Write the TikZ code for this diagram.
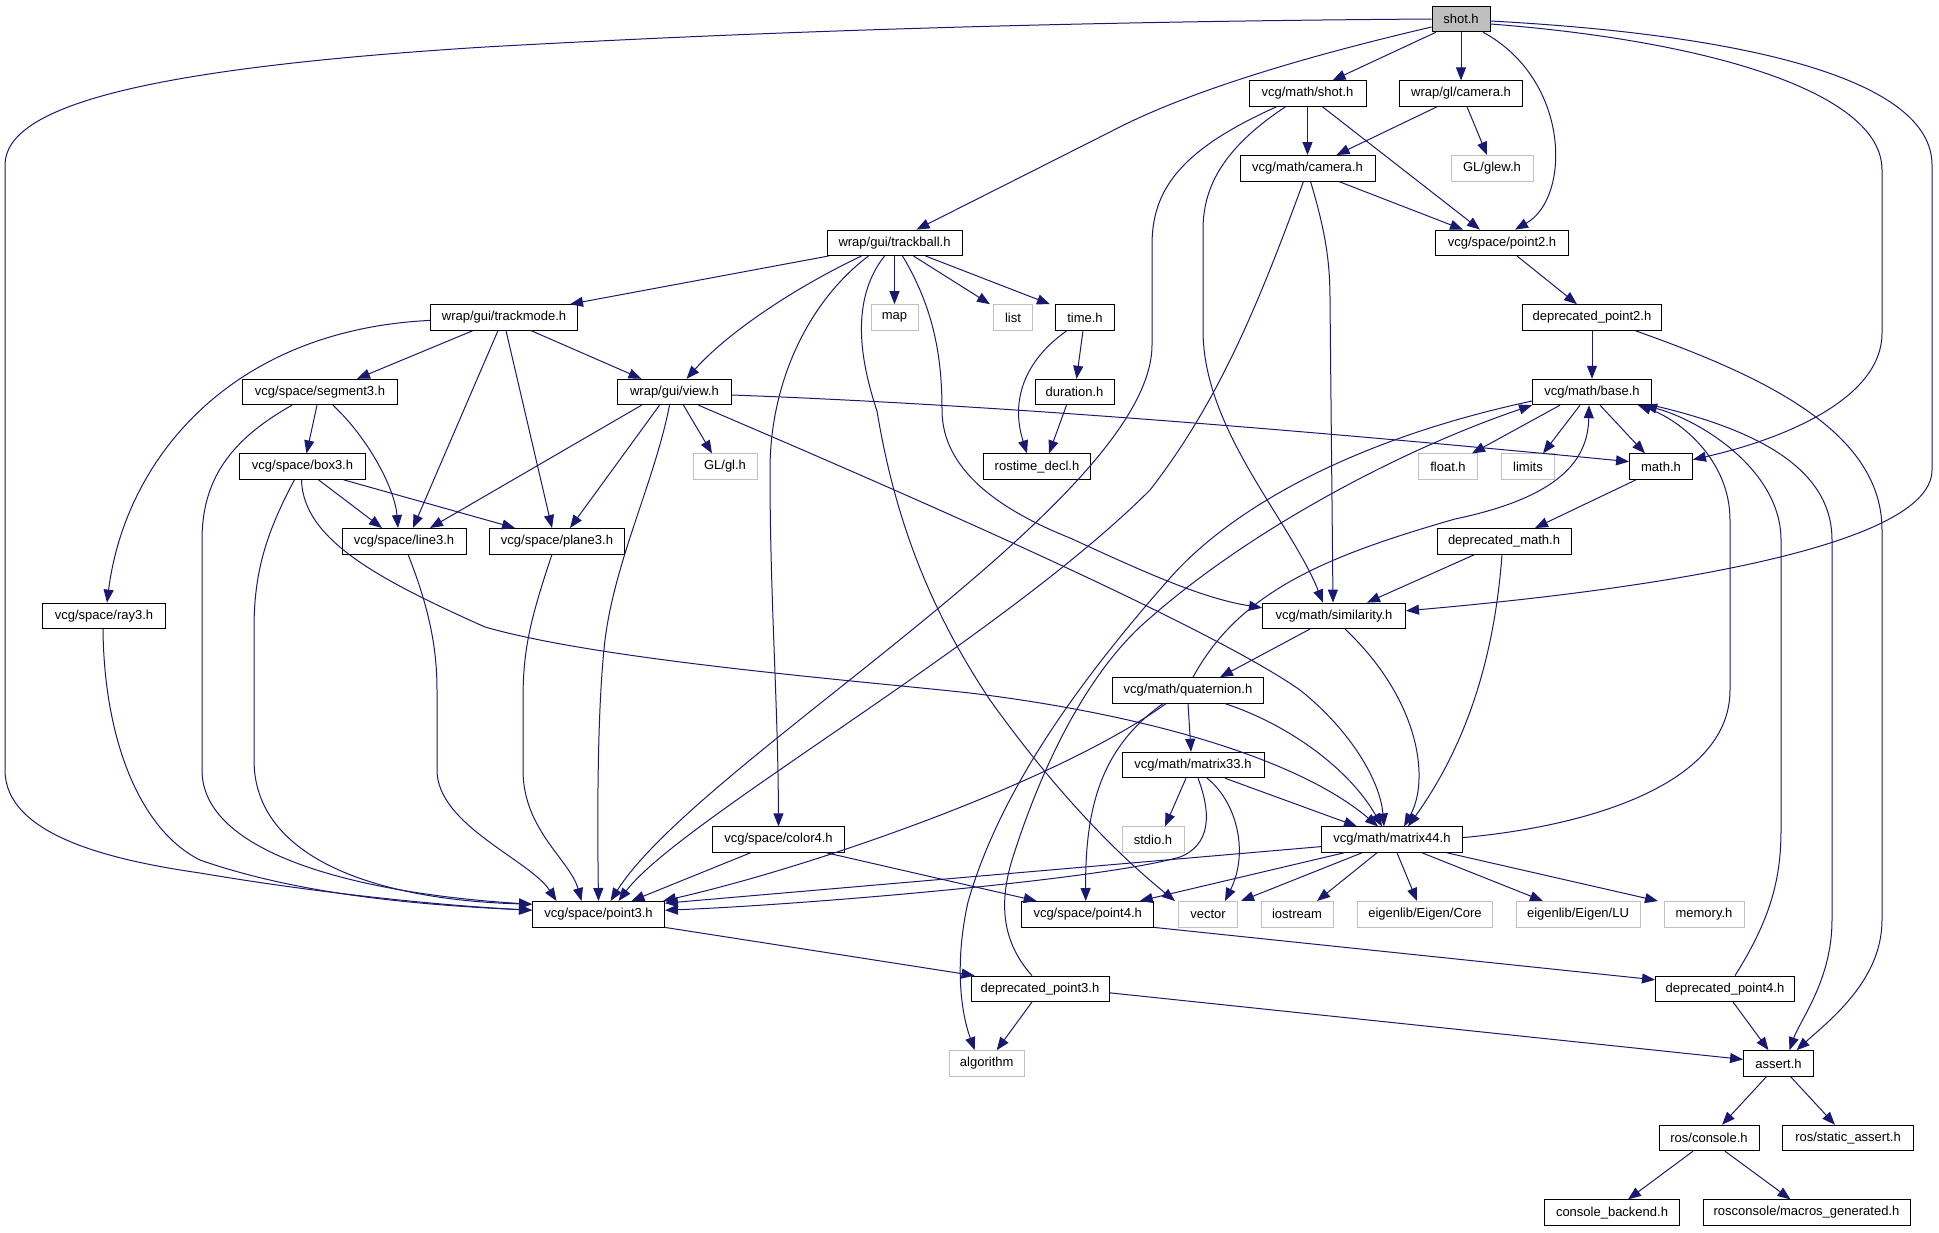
\documentclass[tikz,border=0pt]{standalone}
\usepackage{fontspec}
\setmainfont{Liberation Sans}
\usetikzlibrary{arrows.meta}
\definecolor{edgeblue}{HTML}{191970}
\definecolor{extgray}{HTML}{BFBFBF}
\begin{document}
\begin{tikzpicture}[x=1pt,y=-1pt,
  nd/.style={draw=black,line width=0.9pt,rectangle,minimum height=25.5pt,inner sep=0pt,font=\fontsize{13}{15}\selectfont,fill=white},
  ext/.style={nd,draw=extgray},
  e/.style={draw=edgeblue,line width=1pt,-{Triangle[length=13pt,width=10pt]}}]
\useasboundingbox (0,0) rectangle (1939,1232);
% nodes
\node[nd,minimum width=58pt,fill=extgray] (shot) at (1461,19) {shot.h};
\node[nd,minimum width=117pt] (mshot) at (1307.5,93.6) {vcg/math/shot.h};
\node[nd,minimum width=123pt] (glcam) at (1461,93.6) {wrap/gl/camera.h};
\node[nd,minimum width=135pt] (mcam) at (1307.5,168.2) {vcg/math/camera.h};
\node[ext,minimum width=82pt] (glew) at (1492,168.2) {GL/glew.h};
\node[nd,minimum width=133pt] (pt2) at (1502,242.8) {vcg/space/point2.h};
\node[nd,minimum width=135pt] (tball) at (894.5,242.8) {wrap/gui/trackball.h};
\node[nd,minimum width=147pt] (tmode) at (504,317.4) {wrap/gui/trackmode.h};
\node[ext,minimum width=47pt] (map) at (894.5,317.4) {map};
\node[ext,minimum width=39pt] (list) at (1013,317.4) {list};
\node[nd,minimum width=59pt] (time) at (1085,317.4) {time.h};
\node[nd,minimum width=139pt] (dp2) at (1592,317.4) {deprecated\_point2.h};
\node[nd,minimum width=155pt] (seg3) at (320,392) {vcg/space/segment3.h};
\node[nd,minimum width=114pt] (view) at (674.5,392) {wrap/gui/view.h};
\node[nd,minimum width=79pt] (dur) at (1074.5,392) {duration.h};
\node[nd,minimum width=119pt] (base) at (1592,392) {vcg/math/base.h};
\node[nd,minimum width=126pt] (box3) at (302.5,466.6) {vcg/space/box3.h};
\node[ext,minimum width=64pt] (gl) at (725,466.6) {GL/gl.h};
\node[nd,minimum width=107pt] (rtd) at (1037,466.6) {rostime\_decl.h};
\node[ext,minimum width=59pt] (float) at (1448,466.6) {float.h};
\node[ext,minimum width=53pt] (limits) at (1528,466.6) {limits};
\node[nd,minimum width=63pt] (math) at (1661,466.6) {math.h};
\node[nd,minimum width=124pt] (line3) at (404,541.2) {vcg/space/line3.h};
\node[nd,minimum width=135pt] (plane3) at (557,541.2) {vcg/space/plane3.h};
\node[nd,minimum width=134pt] (dmath) at (1504,541.2) {deprecated\_math.h};
\node[nd,minimum width=123pt] (ray3) at (104,615.8) {vcg/space/ray3.h};
\node[nd,minimum width=143pt] (sim) at (1334,615.8) {vcg/math/similarity.h};
\node[nd,minimum width=151pt] (quat) at (1188,690.4) {vcg/math/quaternion.h};
\node[nd,minimum width=142pt] (m33) at (1193,765) {vcg/math/matrix33.h};
\node[nd,minimum width=132pt] (color4) at (778.5,839.6) {vcg/space/color4.h};
\node[ext,minimum width=62pt] (stdio) at (1153,839.6) {stdio.h};
\node[nd,minimum width=141pt] (m44) at (1392,839.6) {vcg/math/matrix44.h};
\node[nd,minimum width=132pt] (pt3) at (598.5,914.2) {vcg/space/point3.h};
\node[nd,minimum width=132pt] (pt4) at (1087.7,914.2) {vcg/space/point4.h};
\node[ext,minimum width=59pt] (vector) at (1208,914.2) {vector};
\node[ext,minimum width=72pt] (iostream) at (1297,914.2) {iostream};
\node[ext,minimum width=135pt] (ecore) at (1425,914.2) {eigenlib/Eigen/Core};
\node[ext,minimum width=124pt] (elu) at (1578,914.2) {eigenlib/Eigen/LU};
\node[ext,minimum width=80pt] (memory) at (1704,914.2) {memory.h};
\node[nd,minimum width=138pt] (dp3) at (1040,988.8) {deprecated\_point3.h};
\node[nd,minimum width=139pt] (dp4) at (1725,988.8) {deprecated\_point4.h};
\node[ext,minimum width=75pt] (algo) at (986.7,1063.4) {algorithm};
\node[nd,minimum width=70pt] (assert) at (1778.5,1063.4) {assert.h};
\node[nd,minimum width=100pt] (rcons) at (1709,1138) {ros/console.h};
\node[nd,minimum width=131pt] (rsa) at (1848,1138) {ros/static\_assert.h};
\node[nd,minimum width=135pt] (cback) at (1612,1212.6) {console\_backend.h};
\node[nd,minimum width=207pt] (rmg) at (1806.5,1212.6) {rosconsole/macros\_generated.h};
% edges from shot.h
\draw[e] (shot.west) .. controls (1000,22) and (700,35) .. (485,47) .. controls (150,68) and (5,105) .. (5,165) -- (5,770) .. controls (5,835) and (110,860) .. (200,873) .. controls (330,895) and (450,906) .. ([yshift=4pt]pt3.west);
\draw[e] ([yshift=-8pt]shot.west) .. controls (1290,60) and (1180,95) .. (1110,132) -- ([xshift=22pt]tball.north);
\draw[e] ([xshift=-25pt]shot.south) -- ([xshift=25pt]mshot.north);
\draw[e] (shot.south) -- (glcam.north);
\draw[e] ([xshift=22pt]shot.south) .. controls (1571,80) and (1571,198) .. ([xshift=13pt]pt2.north);
\draw[e] ([yshift=-5pt]shot.east) .. controls (1700,40) and (1882,90) .. (1882,170) -- (1882,333) .. controls (1882,400) and (1780,440) .. ([yshift=7pt]math.east);
\draw[e] ([yshift=-2pt]shot.east) .. controls (1750,35) and (1932,80) .. (1932,165) -- (1932,470) .. controls (1932,540) and (1700,585) .. ([yshift=5pt]sim.east);
% vcg/math/shot.h
\draw[e] (mshot.south) -- (mcam.north);
\draw[e] ([xshift=15pt]mshot.south) -- ([xshift=-22pt]pt2.north);
\draw[e] ([xshift=-31pt]mshot.south) .. controls (1180,150) and (1152,190) .. (1152,245) -- (1152,345) .. controls (1152,500) and (700,760) .. ([xshift=12pt]pt3.north);
\draw[e] ([xshift=-22pt]mshot.south) .. controls (1220,150) and (1203,190) .. (1203,230) -- (1203,330) .. controls (1203,430) and (1290,520) .. ([xshift=-11pt]sim.north);
% vcg/math/camera.h
\draw[e] ([xshift=31pt]mcam.south) -- ([xshift=-39pt]pt2.north);
\draw[e] ([xshift=-4pt]mcam.south) .. controls (1260,300) and (1220,400) .. (1150,490) .. controls (1000,640) and (680,820) .. ([xshift=20pt]pt3.north);
\draw[e] ([xshift=3pt]mcam.south) .. controls (1325,230) and (1330,260) .. (1330,300) -- ([xshift=-1pt]sim.north);
% wrap/gl/camera.h
\draw[e] ([xshift=-24pt]glcam.south) -- ([xshift=29pt]mcam.north);
\draw[e] ([xshift=6pt]glcam.south) -- ([xshift=-5pt]glew.north);
% point2 / deprecated_point2
\draw[e] ([xshift=15pt]pt2.south) -- ([xshift=-15pt]dp2.north);
\draw[e] (dp2.south) -- (base.north);
\draw[e] ([xshift=43pt]dp2.south) .. controls (1760,375) and (1882,430) .. (1882,530) -- (1882,920) .. controls (1882,980) and (1830,1020) .. ([xshift=18pt]assert.north);
% base.h
\draw[e] ([xshift=-32pt]base.south) -- ([xshift=24pt]float.north);
\draw[e] ([xshift=-12pt]base.south) -- ([xshift=15pt]limits.north);
\draw[e] ([xshift=8pt]base.south) -- ([xshift=-16pt]math.north);
\draw[e] (base.south east) .. controls (1760,430) and (1832,470) .. (1832,540) -- (1832,920) .. controls (1832,980) and (1800,1020) .. ([xshift=11pt]assert.north);
\draw[e] ([yshift=-9pt]base.west) .. controls (1350,440) and (1230,510) .. (1170,578) .. controls (1080,680) and (1000,790) .. (968,902) .. controls (955,960) and (960,1010) .. ([xshift=-12pt]algo.north);
% math.h / deprecated_math.h
\draw[e] ([xshift=-25pt]math.south) -- ([xshift=31pt]dmath.north);
\draw[e] ([xshift=-29pt]dmath.south) -- ([xshift=33pt]sim.north);
\draw[e] ([xshift=-2pt]dmath.south) .. controls (1495,650) and (1470,740) .. ([xshift=16pt]m44.north);
% similarity.h
\draw[e] ([xshift=-24pt]sim.south) -- ([xshift=32pt]quat.north);
\draw[e] ([xshift=11pt]sim.south) .. controls (1420,700) and (1430,780) .. ([xshift=12pt]m44.north);
% quaternion.h
\draw[e] (quat.south) -- ([xshift=-2pt]m33.north);
\draw[e] ([xshift=37pt]quat.south) .. controls (1290,725) and (1350,770) .. ([xshift=-10pt]m44.north);
\draw[e] ([xshift=-22pt]quat.south) .. controls (1060,780) and (820,865) .. ([xshift=-2pt]pt3.north east);
\draw[e] ([xshift=-25pt]quat.south) .. controls (1105,745) and (1085,800) .. ([xshift=-2pt]pt4.north);
\draw[e] ([xshift=5pt]quat.north) .. controls (1240,590) and (1330,555) .. (1455,519) .. controls (1560,497) and (1588,460) .. ([xshift=-3pt]base.south);
% matrix33.h
\draw[e] ([xshift=-7pt]m33.south) -- ([xshift=12pt]stdio.north);
\draw[e] ([xshift=5pt]m33.south) .. controls (1212,815) and (1210,845) .. (1180,857) .. controls (1100,880) and (800,905) .. ([yshift=4pt]pt3.east);
\draw[e] ([xshift=14pt]m33.south) .. controls (1235,800) and (1250,850) .. ([xshift=17pt]vector.north);
\draw[e] ([xshift=32pt]m33.south) -- ([xshift=-35pt]m44.north);
% color4.h
\draw[e] ([xshift=-28pt]color4.south) -- ([xshift=33pt]pt3.north);
\draw[e] ([xshift=48pt]color4.south) -- ([xshift=-51pt]pt4.north);
% matrix44.h
\draw[e] ([yshift=-7pt]m44.west) -- ([yshift=11pt]pt3.east);
\draw[e] ([xshift=-48pt]m44.south) -- ([xshift=52pt]pt4.north);
\draw[e] ([xshift=-30pt]m44.south) -- ([xshift=33pt]vector.north);
\draw[e] ([xshift=-15pt]m44.south) -- ([xshift=20pt]iostream.north);
\draw[e] ([xshift=5pt]m44.south) -- ([xshift=-8pt]ecore.north);
\draw[e] ([xshift=30pt]m44.south) -- ([xshift=-35pt]elu.north);
\draw[e] ([xshift=55pt]m44.south) -- ([xshift=-46pt]memory.north);
\draw[e] ([yshift=2pt]m44.east) .. controls (1600,825) and (1730,780) .. (1730,690) -- (1730,520) .. controls (1730,460) and (1680,420) .. ([xshift=46pt]base.south);
% box3.h
\draw[e] ([xshift=16pt]box3.south) -- ([xshift=-22pt]line3.north);
\draw[e] ([xshift=41pt]box3.south) -- ([xshift=-42pt]plane3.north);
\draw[e] ([xshift=-8pt]box3.south) .. controls (262,540) and (254,580) .. (254,630) -- (254,760) .. controls (254,860) and (380,900) .. ([yshift=10pt]pt3.west);
\draw[e] ([xshift=-1pt]box3.south) .. controls (303,540) and (380,580) .. (485,627) .. controls (600,660) and (850,680) .. (970,693) .. controls (1150,715) and (1300,760) .. ([xshift=-14pt]m44.north);
% segment3.h
\draw[e] ([xshift=-3pt]seg3.south) -- ([xshift=4pt]box3.north);
\draw[e] ([xshift=13pt]seg3.south) .. controls (370,440) and (395,490) .. ([xshift=-6pt]line3.north);
\draw[e] ([xshift=-28pt]seg3.south) .. controls (230,440) and (202,480) .. (202,540) -- (202,770) .. controls (202,860) and (380,895) .. ([yshift=10pt]pt3.west);
% ray3, line3, plane3
\draw[e] ([xshift=-1pt]ray3.south) .. controls (104,740) and (140,830) .. (200,860) .. controls (300,895) and (420,905) .. ([yshift=4pt]pt3.west);
\draw[e] ([xshift=4pt]line3.south) .. controls (430,610) and (437,650) .. (437,690) -- (437,770) .. controls (437,825) and (530,860) .. ([xshift=-42pt]pt3.north);
\draw[e] ([xshift=-5pt]plane3.south) .. controls (530,620) and (523,650) .. (523,700) -- (523,770) .. controls (523,830) and (570,860) .. ([xshift=-17pt]pt3.north);
% view.h
\draw[e] ([xshift=-33pt]view.south) -- ([xshift=26pt]line3.north);
\draw[e] ([xshift=-15pt]view.south) -- ([xshift=13pt]plane3.north);
\draw[e] ([xshift=-5pt]view.south) .. controls (655,480) and (615,560) .. (605,640) .. controls (598,700) and (597,800) .. (pt3.north);
\draw[e] ([xshift=9pt]view.south) -- ([xshift=-13pt]gl.north);
\draw[e] ([xshift=24pt]view.south) .. controls (850,470) and (1200,620) .. (1300,690) .. controls (1350,730) and (1380,780) .. ([xshift=-8pt]m44.north);
\draw[e] ([yshift=-3pt]view.east) .. controls (1000,405) and (1300,430) .. ([yshift=5pt]math.west);
% trackball.h
\draw[e] ([xshift=-66pt]tball.south) -- ([xshift=66pt]tmode.north);
\draw[e] ([xshift=-33pt]tball.south) .. controls (800,285) and (730,330) .. ([xshift=12pt]view.north);
\draw[e] ([xshift=-26pt]tball.south) .. controls (810,300) and (770,380) .. (770,470) .. controls (770,600) and (778,700) .. (color4.north);
\draw[e] ([xshift=-10pt]tball.south) .. controls (850,300) and (860,360) .. (877,411) .. controls (895,520) and (930,610) .. (990,700) .. controls (1040,770) and (1100,840) .. ([xshift=-33pt]vector.north);
\draw[e] (tball.south) -- (map.north);
\draw[e] ([xshift=19pt]tball.south) -- ([xshift=-23pt]list.north);
\draw[e] ([xshift=31pt]tball.south) -- ([xshift=-35pt]time.north);
\draw[e] ([xshift=8pt]tball.south) .. controls (935,310) and (942,360) .. (942,410) .. controls (942,470) and (1000,510) .. (1070,538) .. controls (1140,570) and (1200,598) .. ([yshift=8pt]sim.west);
% trackmode.h
\draw[e] ([yshift=-3pt]tmode.west) .. controls (230,330) and (125,460) .. ([xshift=3pt]ray3.north);
\draw[e] ([xshift=-31pt]tmode.south) -- ([xshift=37pt]seg3.north);
\draw[e] ([xshift=-6pt]tmode.south) -- ([xshift=9pt]line3.north);
\draw[e] ([xshift=2pt]tmode.south) -- ([xshift=-5pt]plane3.north);
\draw[e] ([xshift=27pt]tmode.south) -- ([xshift=-33pt]view.north);
% time.h, duration.h
\draw[e] ([xshift=-2pt]time.south) -- ([xshift=2pt]dur.north);
\draw[e] ([xshift=-18pt]time.south) .. controls (1025,360) and (1010,400) .. ([xshift=-10pt]rtd.north);
\draw[e] ([xshift=-8pt]dur.south) -- ([xshift=12pt]rtd.north);
% point3, point4
\draw[e] (pt3.south east) -- ([xshift=4pt]dp3.north west);
\draw[e] (pt4.south east) -- ([yshift=9pt]dp4.west);
% deprecated_point3.h
\draw[e] ([xshift=-8pt]dp3.south) -- ([xshift=10pt]algo.north);
\draw[e] ([yshift=-4pt]dp3.east) -- ([yshift=4pt]assert.west);
\draw[e] ([xshift=-8pt]dp3.north) .. controls (1000,940) and (1000,900) .. (1012,860) .. controls (1050,740) and (1100,660) .. (1150,618) .. controls (1250,530) and (1400,450) .. (base.south west);
% deprecated_point4.h
\draw[e] ([xshift=8pt]dp4.south) -- ([xshift=-10pt]assert.north);
\draw[e] ([xshift=10pt]dp4.north) .. controls (1770,920) and (1781,880) .. (1781,830) -- (1781,540) .. controls (1781,470) and (1700,420) .. ([xshift=52pt]base.south);
% assert.h, ros/console.h
\draw[e] ([xshift=-12pt]assert.south) -- ([xshift=13pt]rcons.north);
\draw[e] ([xshift=12pt]assert.south) -- ([xshift=-13pt]rsa.north);
\draw[e] ([xshift=-16pt]rcons.south) -- ([xshift=16pt]cback.north);
\draw[e] ([xshift=16pt]rcons.south) -- ([xshift=-16pt]rmg.north);
\end{tikzpicture}
\end{document}
